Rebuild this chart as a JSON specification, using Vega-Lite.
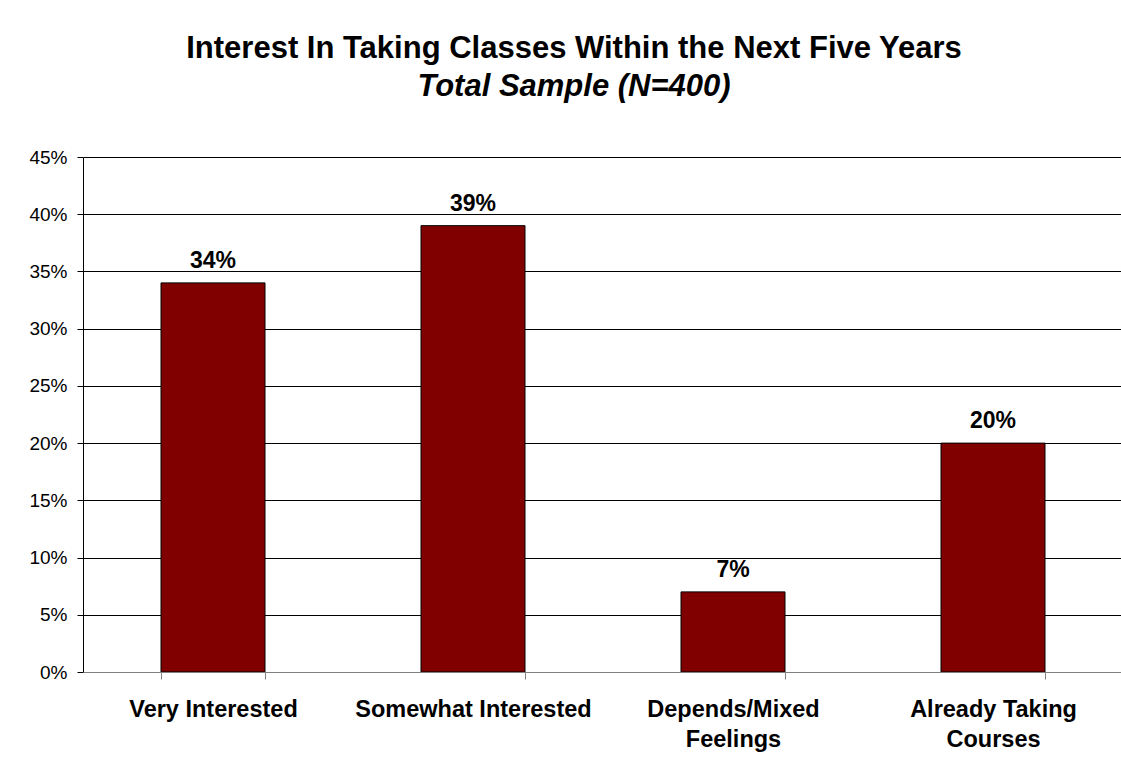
{
  "$schema": "https://vega.github.io/schema/vega-lite/v6.json",
  "width": 1040,
  "height": 515,
  "autosize": {"type": "none"},
  "padding": {"left": 83, "top": 157, "right": 0, "bottom": 100},
  "background": "white",
  "title": {
    "text": "Interest In Taking Classes Within the Next Five Years",
    "subtitle": "Total Sample (N=400)",
    "font": "Liberation Sans",
    "fontSize": 31,
    "fontWeight": "bold",
    "color": "black",
    "subtitleFont": "Liberation Sans",
    "subtitleFontSize": 31,
    "subtitleFontWeight": "bold",
    "subtitleFontStyle": "italic",
    "subtitleColor": "black",
    "subtitlePadding": 7,
    "anchor": "middle",
    "frame": "group",
    "dx": -29,
    "offset": 45
  },
  "data": {
    "values": [
      {"category": "Very Interested", "pct": 0.34},
      {"category": "Somewhat Interested", "pct": 0.39},
      {"category": "Depends/Mixed Feelings", "pct": 0.07},
      {"category": "Already Taking Courses", "pct": 0.20}
    ]
  },
  "config": {
    "view": {"stroke": null},
    "axis": {"labelFont": "Liberation Sans", "labelColor": "black"}
  },
  "encoding": {
    "x": {
      "field": "category",
      "type": "nominal",
      "sort": null,
      "scale": {"paddingInner": 0.6, "paddingOuter": 0.3},
      "axis": {
        "title": null,
        "labelAngle": 0,
        "labelFontSize": 23.5,
        "labelFontWeight": "bold",
        "labelPadding": 18,
        "labelLineHeight": 30,
        "labelBaseline": "top",
        "labelLimit": 0,
        "labelExpr": "datum.value == 'Depends/Mixed Feelings' ? ['Depends/Mixed', 'Feelings'] : datum.value == 'Already Taking Courses' ? ['Already Taking', 'Courses'] : datum.label",
        "domainColor": "#808080",
        "tickColor": "#808080",
        "tickSize": 7,
        "tickBand": "extent",
        "grid": false,
        "zindex": 1
      }
    },
    "y": {
      "field": "pct",
      "type": "quantitative",
      "scale": {"domain": [0, 0.45], "nice": false},
      "axis": {
        "title": null,
        "values": [0, 0.05, 0.1, 0.15, 0.2, 0.25, 0.3, 0.35, 0.4, 0.45],
        "format": ".0%",
        "labelFontSize": 19,
        "labelPadding": 10,
        "tickSize": 6,
        "tickColor": "#000",
        "domainColor": "#000",
        "grid": true,
        "gridColor": "#000",
        "gridOpacity": 1,
        "gridWidth": 1
      }
    }
  },
  "layer": [
    {"mark": {"type": "bar", "fill": "#800000", "stroke": "#000", "strokeWidth": 1}},
    {
      "mark": {"type": "text", "font": "Liberation Sans", "fontSize": 23, "fontWeight": "bold", "color": "black", "baseline": "alphabetic", "dy": -15},
      "encoding": {"text": {"field": "pct", "type": "quantitative", "format": ".0%"}}
    }
  ]
}
